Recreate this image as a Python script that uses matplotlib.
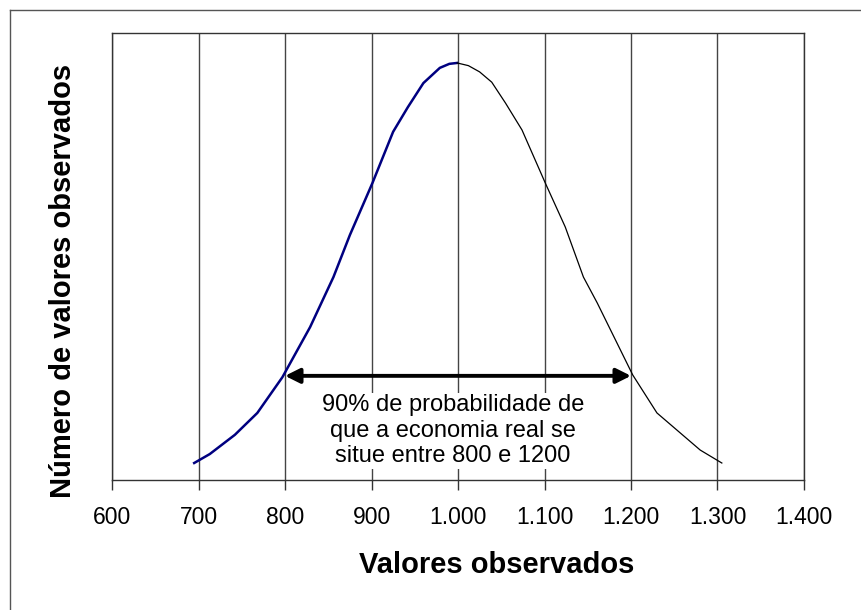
import matplotlib
matplotlib.use("Agg")
import matplotlib.pyplot as plt
from matplotlib.lines import Line2D
import numpy as np

plt.rcParams['font.family'] = ['Liberation Sans', 'DejaVu Sans']

# %% data (y in relative units, axis 0..1)
x_vals = [695, 713, 742, 768, 797, 829, 856, 875, 901, 925, 942, 960, 979, 990, 999,
          1012, 1025, 1039, 1055, 1074, 1101, 1124, 1145, 1161, 1202, 1230, 1280, 1305]
y_vals = [0.038, 0.058, 0.101, 0.150, 0.230, 0.342, 0.454, 0.548, 0.664, 0.779, 0.834,
          0.888, 0.922, 0.931, 0.933, 0.927, 0.913, 0.890, 0.843, 0.783, 0.664, 0.566,
          0.454, 0.396, 0.235, 0.150, 0.067, 0.038]
x_ticks = [600, 700, 800, 900, 1000, 1100, 1200, 1300, 1400]
x_labels = ['600', '700', '800', '900', '1.000', '1.100', '1.200', '1.300', '1.400']
interval = (800, 1200)
interval_level = 0.233
note = "90% de probabilidade de\nque a economia real se\nsitue entre 800 e 1200"

x = np.array(x_vals)
y = np.array(y_vals)

# %% figure
fig = plt.figure(figsize=(8.62, 6.10), dpi=100)
ax = fig.add_axes([112/862, 130/610, 692/862, 447/610])

left = x <= 1000
right = x >= 999
ax.plot(x[left], y[left], color='#000080', lw=1.8, zorder=3, solid_joinstyle='round')
ax.plot(x[right], y[right], color='black', lw=0.9, zorder=3, solid_joinstyle='round')

ax.set_xlim(600, 1400)
ax.set_ylim(0, 1)
ax.set_xticks(x_ticks)
ax.set_xticklabels(x_labels, fontsize=16.5)
ax.set_yticks([])
ax.tick_params(axis='x', direction='out', length=7, width=1, pad=12, color='#333333')
ax.grid(axis='x', color='#444444', lw=1)
ax.set_axisbelow(True)
for s in ax.spines.values():
    s.set_color('#333333')
    s.set_linewidth(1)

# double arrow + note
ax.annotate('', xy=(interval[0], interval_level), xytext=(interval[1], interval_level),
            arrowprops=dict(arrowstyle='<|-|>', lw=2.8, color='black',
                            mutation_scale=22, shrinkA=0, shrinkB=0), zorder=4)
ax.text(994, 0.11, note, ha='center', va='center', fontsize=17,
        linespacing=1.2, bbox=dict(facecolor='white', edgecolor='none', pad=1), zorder=2)

fig.text(497/862, 1 - 565/610, 'Valores observados', ha='center', va='center',
         fontsize=21, fontweight='bold')
fig.text(63/862, 1 - 281/610, 'Número de valores observados', ha='center', va='center',
         fontsize=21, fontweight='bold', rotation=90)

# chart-area border (only left and top visible)
fig.add_artist(Line2D([10/862, 10/862], [0, 1 - 10/610], transform=fig.transFigure,
                      color='#555555', lw=1))
fig.add_artist(Line2D([10/862, 1], [1 - 10/610, 1 - 10/610], transform=fig.transFigure,
                      color='#555555', lw=1))

fig.savefig('out.png', dpi=100)
